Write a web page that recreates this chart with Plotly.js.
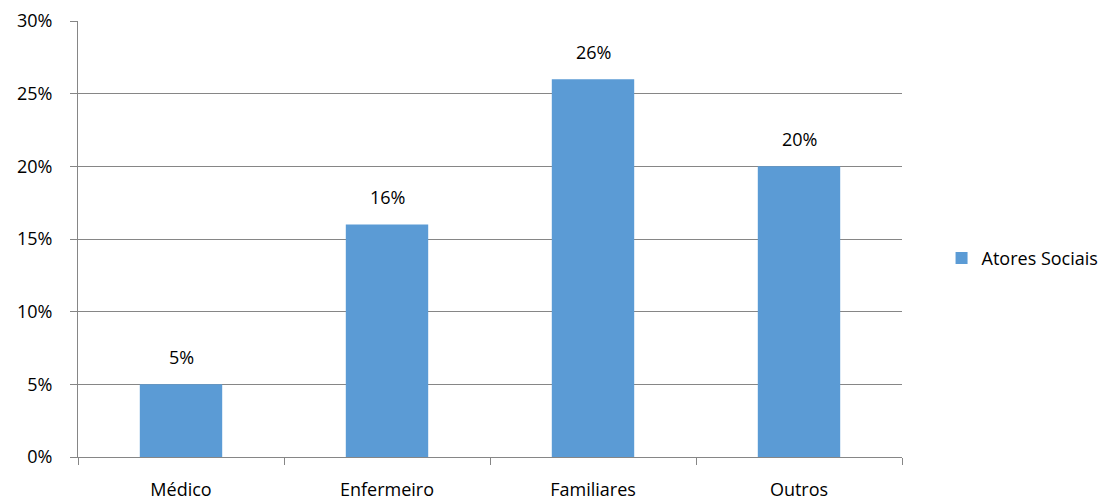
<!DOCTYPE html>
<html>
<head>
<meta charset="utf-8">
<script src="https://cdn.plot.ly/plotly-3.0.1.min.js"></script>
<style>
  html, body { margin: 0; padding: 0; background: #fff; }
  #chart { width: 1119px; height: 502px; }
</style>
</head>
<body>
<div id="chart"></div>
<script>
// Distribution of social actors
const categories = ['Médico', 'Enfermeiro', 'Familiares', 'Outros'];
const values = [0.05, 0.16, 0.26, 0.20];
const seriesName = 'Atores Sociais';

const font = { family: 'Open Sans, sans-serif', size: 18, color: '#000' };

const trace = {
  type: 'bar',
  x: categories,
  y: values,
  name: seriesName,
  marker: { color: '#5B9BD5' },
  showlegend: true,
  hoverinfo: 'skip'
};

const labels = categories.map((c, i) => ({
  x: c,
  y: values[i],
  text: Math.round(values[i] * 100) + '%',
  showarrow: false,
  yanchor: 'bottom',
  yshift: 13,
  font: font
}));

const layout = {
  width: 1119,
  height: 502,
  margin: { l: 78, r: 217, t: 21, b: 45 },
  paper_bgcolor: '#fff',
  plot_bgcolor: '#fff',
  font: font,
  bargap: 0.6,
  xaxis: {
    type: 'category',
    showline: true,
    linecolor: '#868686',
    linewidth: 1,
    ticks: 'outside',
    tickson: 'boundaries',
    ticklen: 7,
    tickcolor: '#868686',
    showgrid: false,
    tickfont: font,
    ticklabelstandoff: 16,
    fixedrange: true
  },
  yaxis: {
    range: [0, 0.30],
    dtick: 0.05,
    tickformat: '.0%',
    showline: true,
    linecolor: '#868686',
    linewidth: 1,
    ticks: 'outside',
    ticklen: 7,
    tickcolor: '#868686',
    showgrid: true,
    gridcolor: '#868686',
    gridwidth: 1,
    zeroline: false,
    tickfont: font,
    ticklabelstandoff: 14,
    fixedrange: true
  },
  legend: {
    x: 1.048,
    y: 0.456,
    xanchor: 'left',
    yanchor: 'middle',
    font: font,
    itemwidth: 30,
    borderwidth: 0
  },
  annotations: labels
};

Plotly.newPlot('chart', [trace], layout, { displayModeBar: false, staticPlot: true });
</script>
</body>
</html>
